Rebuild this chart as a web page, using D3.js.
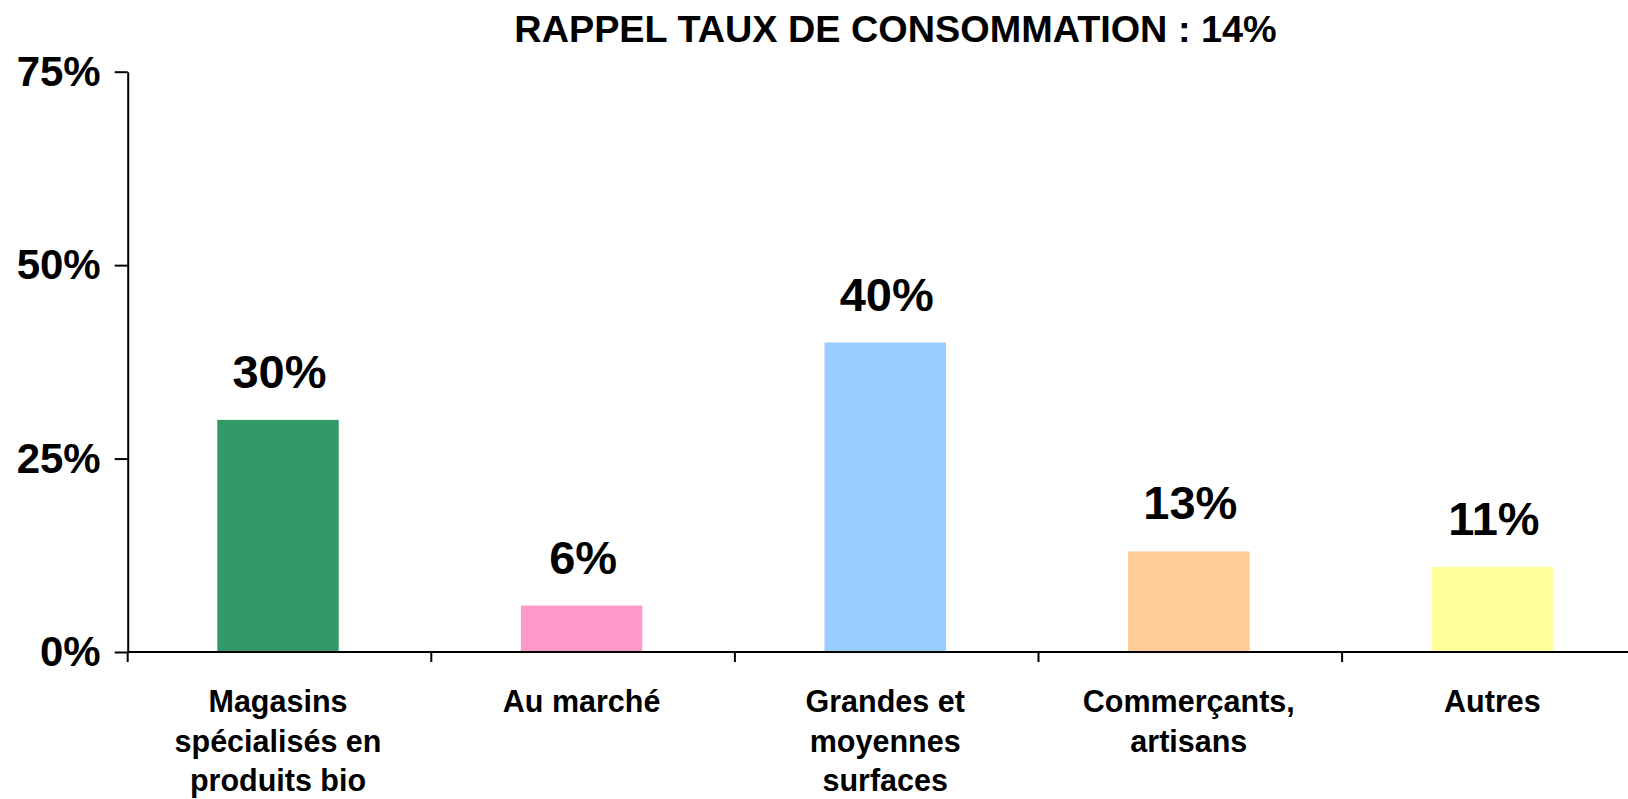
<!DOCTYPE html>
<html>
<head>
<meta charset="utf-8">
<script src="https://cdn.jsdelivr.net/npm/d3@7"></script>
<style>
  html, body { margin: 0; padding: 0; background: #fff; }
  svg { display: block; font-family: "Liberation Sans", Arial, sans-serif; font-weight: bold; }
</style>
</head>
<body>
<script>
// Chart data
var categories = ["Magasins\nspécialisés en\nproduits bio", "Au marché", "Grandes et\nmoyennes\nsurfaces", "Commerçants,\nartisans", "Autres"];
var values = [0.30, 0.06, 0.40, 0.13, 0.11];
var colors = ["#339966", "#FF99CC", "#99CCFF", "#FFCC99", "#FFFF99"];
var yTicks = [0, 0.25, 0.50, 0.75];
var title = "RAPPEL TAUX DE CONSOMMATION : 14%";

// Size of the page
var width = 1628;
var height = 799;

// Plot area
var plotLeft = 127.7, plotTop = 71.7, plotBottom = 652;
var band = 303.6;

var svg = d3.select("body").append("svg")
    .attr("width", width)
    .attr("height", height);

// Scales
var x = d3.scaleBand()
    .domain(d3.range(categories.length))
    .range([plotLeft, plotLeft + band * categories.length])
    .padding(0);

var y = d3.scaleLinear()
    .domain([0, 0.75])
    .range([plotBottom, plotTop]);

var pct = d3.format(".0%");

// Title
svg.append("text")
    .attr("x", 895.5)
    .attr("y", 41.7)
    .attr("text-anchor", "middle")
    .style("font-size", "37.8px")
    .text(title);

// Bars
var barW = x.bandwidth() * 0.4;
svg.selectAll(".bar")
    .data(values)
    .enter().append("rect")
    .attr("class", "bar")
    .attr("x", function(d, i) { return x(i) + (x.bandwidth() - barW) / 2 - 1.5; })
    .attr("y", function(d) { return y(d); })
    .attr("width", barW)
    .attr("height", function(d) { return y(0) - y(d); })
    .attr("fill", function(d, i) { return colors[i]; });

// Value labels above the bars
svg.selectAll(".val")
    .data(values)
    .enter().append("text")
    .attr("class", "val")
    .attr("x", function(d, i) { return x(i) + x.bandwidth() / 2; })
    .attr("y", function(d) { return y(d) - 32; })
    .attr("text-anchor", "middle")
    .style("font-size", "47px")
    .text(function(d) { return pct(d); });

// Y axis
var yAxis = svg.append("g")
    .attr("transform", "translate(" + plotLeft + ",0)")
    .call(d3.axisLeft(y).tickValues(yTicks).tickFormat(pct).tickSize(13).tickPadding(14).tickSizeOuter(0));
yAxis.select(".domain").attr("stroke", "#000").attr("stroke-width", 2);
yAxis.selectAll(".tick line").attr("stroke", "#000").attr("stroke-width", 2);
yAxis.selectAll(".tick text")
    .attr("fill", "#000")
    .style("font-size", "42px")
    .style("font-family", "'Liberation Sans', Arial, sans-serif")
    .style("font-weight", "bold");

// X axis line and ticks between categories
var xAxis = svg.append("g");
xAxis.append("line")
    .attr("x1", plotLeft)
    .attr("x2", x.range()[1])
    .attr("y1", y(0))
    .attr("y2", y(0))
    .attr("stroke", "#000")
    .attr("stroke-width", 2);

xAxis.selectAll(".xtick")
    .data(d3.range(categories.length + 1))
    .enter().append("line")
    .attr("class", "xtick")
    .attr("x1", function(i) { return plotLeft + i * x.step(); })
    .attr("x2", function(i) { return plotLeft + i * x.step(); })
    .attr("y1", y(0))
    .attr("y2", y(0) + 10)
    .attr("stroke", "#000")
    .attr("stroke-width", 2);

// Category labels, split on line breaks
var catLabels = xAxis.selectAll(".cat")
    .data(categories)
    .enter().append("text")
    .attr("class", "cat")
    .attr("text-anchor", "middle")
    .style("font-size", "30.5px");

catLabels.selectAll("tspan")
    .data(function(d, i) { return d.split("\n").map(function(s) { return { s: s, i: i }; }); })
    .enter().append("tspan")
    .attr("x", function(d) { return x(d.i) + x.bandwidth() / 2 - 1.5; })
    .attr("y", function(d, j) { return 712 + j * 39.5; })
    .text(function(d) { return d.s; });
</script>
</body>
</html>
